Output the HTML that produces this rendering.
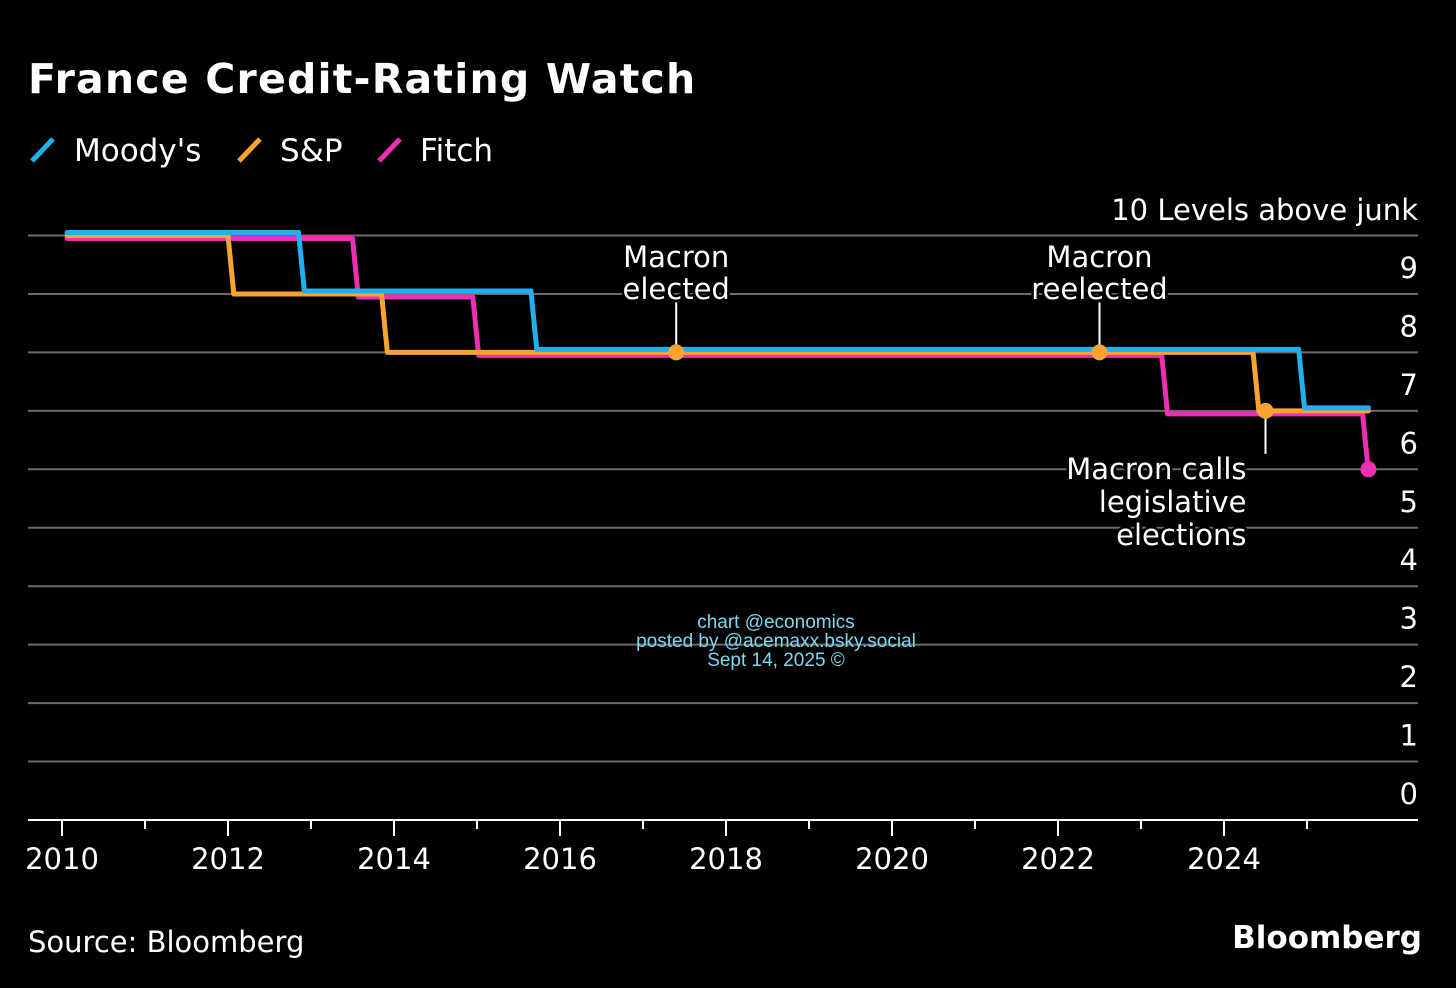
<!DOCTYPE html>
<html><head><meta charset="utf-8"><style>
html,body{margin:0;padding:0;background:#000;}
svg{display:block;font-family:"DejaVu Sans","Liberation Sans",sans-serif;}
</style></head><body>
<svg id="c" width="1456" height="988" viewBox="0 0 1456 988">
<rect width="1456" height="988" fill="#000"/>
<text x="28" y="93" fill="#fff" font-size="41" font-weight="bold" letter-spacing="1.2">France Credit-Rating Watch</text>
<g>
<line x1="32" y1="161" x2="53" y2="139" stroke="#1fb0f0" stroke-width="5"/>
<text x="74" y="161" fill="#fff" font-size="31">Moody's</text>
<line x1="239" y1="161" x2="260" y2="139" stroke="#f8a42f" stroke-width="5"/>
<text x="280" y="161" fill="#fff" font-size="31">S&amp;P</text>
<line x1="379" y1="161" x2="400" y2="139" stroke="#ec2fb5" stroke-width="5"/>
<text x="420" y="161" fill="#fff" font-size="31">Fitch</text>
</g>
<text x="1418" y="220" fill="#fff" font-size="29" text-anchor="end">10 Levels above junk</text>
<g id="grid"></g><g id="series"></g><g id="ann"></g>
<g fill="#7fd8f0" font-family="Liberation Sans, sans-serif" font-size="19" text-anchor="middle">
<text x="776" y="628">chart @economics</text>
<text x="776" y="647">posted by @acemaxx.bsky.social</text>
<text x="776" y="666">Sept 14, 2025 ©</text>
</g>
<text x="28" y="952" fill="#fff" font-size="29">Source: Bloomberg</text>
<text x="1422" y="948" fill="#fff" font-size="31" font-weight="bold" text-anchor="end">Bloomberg</text>
</svg>
<script>
const yTicks=[0,1,2,3,4,5,6,7,8,9];
const xTicks=[2010,2012,2014,2016,2018,2020,2022,2024];
const moodysT=[2010.06,2012.85,2012.92,2015.65,2015.72,2024.9,2024.97,2025.74];
const moodysV=[10,10,9,9,8,8,7,7];
const spT=[2010.06,2012.0,2012.07,2013.85,2013.92,2024.35,2024.42,2025.74];
const spV=[10,10,9,9,8,8,7,7];
const fitchT=[2010.06,2013.5,2013.57,2014.95,2015.02,2023.25,2023.32,2025.67,2025.74];
const fitchV=[10,10,9,9,8,8,7,7,6];
const annNames=["Macron elected","Macron reelected","Macron calls legislative elections"];
const annT=[2017.4,2022.5,2024.5];
const annV=[8,8,7];
const NS="http://www.w3.org/2000/svg";
const X=t=>62+(t-2010)*83;
const Y=v=>820-v*58.45;
function mk(tag,attrs,parent){const e=document.createElementNS(NS,tag);for(const k in attrs)e.setAttribute(k,attrs[k]);parent.appendChild(e);return e;}
const grid=document.getElementById('grid');
for(let v=1;v<=10;v++){
 const l=mk('line',{x1:28,x2:1418,y1:Y(v),y2:Y(v),stroke:'#6b6b6b','stroke-width':2},grid);
 
 
}
yTicks.forEach(v=>{
 const t=mk('text',{x:1418,y:Y(v)-16,fill:'#fff','font-size':29,'text-anchor':'end'},grid);
 t.textContent=v;
 
 
});
const ax=mk('line',{x1:28,x2:1418,y1:820,y2:820,stroke:'#fff','stroke-width':2},grid);


for(let yr=2010;yr<=2025;yr++){
 const major=xTicks.includes(yr);
 const tk=mk('line',{x1:X(yr),x2:X(yr),y1:820,y2:major?836:829,stroke:'#fff','stroke-width':2},grid);
 
 
}
xTicks.forEach(yr=>{
 const t=mk('text',{x:X(yr),y:869,fill:'#fff','font-size':29,'text-anchor':'middle'},grid);
 t.textContent=yr;
 
 
});
const series=document.getElementById('series');
function draw(T,V,color,off,name){
 const pts=T.map((t,i)=>X(t)+','+(Y(V[i])+off)).join(' ');
 const p=mk('polyline',{points:pts,fill:'none',stroke:color,'stroke-width':5,'stroke-linejoin':'round','stroke-linecap':'round'},series);
 
 
}
draw(fitchT,fitchV,'#ec2fb5',3,'fitch-line');
draw(spT,spV,'#f8a42f',0,'sp-line');
draw(moodysT,moodysV,'#1fb0f0',-3,'moodys-line');
const fd=mk('circle',{cx:X(fitchT[fitchT.length-1]),cy:Y(fitchV[fitchV.length-1]),r:8,fill:'#ec2fb5'},series);


const ann=document.getElementById('ann');
const labelLines=[["Macron","elected"],["Macron","reelected"],["Macron calls","legislative","elections"]];
annT.forEach((t,i)=>{
 const cx=X(t),cy=Y(annV[i]);
 const g=mk('g',{},ann);
 
 
 const below=i===2;
 mk('line',{x1:cx,x2:cx,y1:below?cy:cy-50,y2:below?cy+43:cy,stroke:'#fff','stroke-width':2},g);
 mk('circle',{cx:cx,cy:cy,r:8,fill:'#f8a42f'},g);
 labelLines[i].forEach((s,j)=>{
  const tx=mk('text',{x:below?cx-19:cx,y:below?479+j*33:267+j*32,fill:'#fff','font-size':29,'text-anchor':below?'end':'middle',stroke:'#000','stroke-width':5,'paint-order':'stroke'},g);
  tx.textContent=s;
 });
});
</script>
</body></html>
